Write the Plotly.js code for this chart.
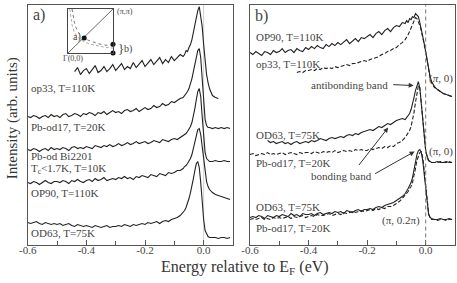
<!DOCTYPE html>
<html><head><meta charset="utf-8">
<script src="https://cdn.plot.ly/plotly-3.0.1.min.js"></script>
<style>html,body{margin:0;padding:0;background:#fff}</style>
</head><body><div id="chart" style="width:457px;height:283px"></div>
<script>
// Energy grid (eV relative to E_F)
const energy = [
 -0.60,-0.59,-0.58,-0.57,-0.56,-0.55,-0.54,-0.53,-0.52,-0.51,
 -0.50,-0.49,-0.48,-0.47,-0.46,-0.45,-0.44,-0.43,-0.42,-0.41,
 -0.40,-0.39,-0.38,-0.37,-0.36,-0.35,-0.34,-0.33,-0.32,-0.31,
 -0.30,-0.29,-0.28,-0.27,-0.26,-0.25,-0.24,-0.23,-0.22,-0.21,
 -0.20,-0.19,-0.18,-0.17,-0.16,-0.15,-0.14,-0.13,-0.12,-0.11,
 -0.10,-0.09,-0.08,-0.07,
 -0.065,-0.06,-0.055,-0.05,-0.045,-0.04,-0.035,-0.03,-0.025,-0.02,-0.015,-0.01,-0.005,0,0.005,0.01,0.015,0.02,
 0.03,0.04,0.05,0.06,0.07,0.08,0.09];

// Panel a) spectra (offset, arb. units)
const aOp33 = [
 null,null,null,null,null,null,null,null,null,null,
 null,null,null,null,null,null,173,177,170,174,
 176,171,175,179,172,174,178,173,176,180,
 174,177,181,175,178,176,182,177,180,184,
 178,181,185,180,183,187,181,185,182,188,
 184,187,190,188,
 190,194,193,197,200,205,212,220,228,234,238,230,218,200,182,170,162,156,
 149,147,146,null,null,null,null];
const aPbOd17 = [
 128,127,129,128,126,128,129,127,130,128,
 129,127,130,131,128,129,131,130,128,131,
 130,132,131,129,132,131,133,130,132,134,
 132,133,131,134,135,133,134,136,133,135,
 137,135,136,139,137,138,141,139,140,143,
 142,144,146,147,
 149,150,153,156,160,166,173,181,188,194,196,187,166,142,125,119,117,117,
 116,117,116,117,116,117,116];
const aBi2201 = [
 95,94,96,95,93,95,96,94,97,95,
 96,95,97,96,94,97,98,96,97,96,
 98,97,96,99,98,97,99,98,100,98,
 99,101,99,100,102,100,101,103,101,102,
 103,101,102,104,103,102,105,104,103,105,
 106,105,107,109,
 110,111,113,115,118,122,128,136,145,153,156,148,128,106,92,86,84,83,
 83,84,83,83,84,83,83];
const aOP90 = [
 62,61,63,62,60,62,64,62,61,63,
 63,62,64,63,61,64,63,65,63,62,
 64,65,63,66,64,65,67,64,65,66,
 65,67,66,68,66,67,65,68,67,69,
 68,67,70,69,68,71,70,69,72,71,
 72,74,74,76,
 78,79,81,83,86,90,96,103,110,115,116,110,98,86,73,63,58,55,
 52,50,49,48,47,46,45];
const aOD63 = [
 22,21,22,23,21,20,22,21,20,21,
 20,21,19,20,21,19,18,20,19,18,
 19,18,17,19,18,17,18,19,17,18,
 18,19,18,20,19,18,20,19,20,21,
 20,22,21,22,23,21,23,24,23,25,
 26,27,29,32,
 34,37,41,46,52,58,66,74,81,83,77,62,42,25,14,10,8,7,
 7,7,6,7,7,6,7];

// Panel b) spectra
const bOP90 = [
 192,190,193,191,189,193,192,190,194,192,
 193,196,192,194,195,192,196,194,193,197,
 195,198,196,199,197,196,200,198,201,199,
 202,200,203,205,201,204,206,203,207,206,
 208,210,207,211,213,210,214,216,213,217,
 219,218,222,221,
 224,222,226,225,228,227,231,229,228,222,216,209,201,193,184,176,168,163,
 158,155,153,151,150,149,148];
const bOp33 = [
 null,null,null,null,null,null,null,null,null,null,
 null,null,null,null,null,null,172,173,172,174,
 174,175,174,176,175,177,176,177,176,178,
 177,178,179,180,179,181,181,182,183,184,
 183,185,186,187,188,190,191,193,194,196,
 197,200,202,205,
 207,210,213,217,221,225,227,226,223,219,214,208,200,192,183,175,167,162,
 157,155,153,151,150,149,148];
const bOD63Pi0 = [
 null,null,null,null,null,null,104,102,103,101,
 102,103,101,102,100,102,103,101,102,103,
 102,104,103,104,106,105,104,106,107,106,
 107,108,107,109,110,109,111,110,112,113,
 114,115,114,116,118,117,119,121,120,122,
 124,125,126,125,
 127,128,131,135,140,147,154,160,163,156,140,122,106,94,88,84,83,82,
 82,83,82,82,83,82,82];
const bPbOd17Pi0 = [
 90,91,89,90,91,90,92,90,91,90,
 91,92,90,91,92,91,90,92,91,92,
 92,91,93,92,91,93,92,93,92,94,
 92,93,94,93,94,93,95,94,95,94,
 94,96,95,96,97,96,98,97,99,98,
 101,102,104,107,
 109,111,114,118,124,132,142,152,159,157,142,123,106,94,88,84,83,82,
 82,82,83,82,82,83,82];
const bOD63Pi02 = [
 27,28,27,29,28,26,29,28,27,29,
 28,30,29,28,31,29,30,28,31,30,
 30,31,29,31,32,30,31,32,31,33,
 32,33,31,34,33,32,34,35,33,35,
 35,36,35,37,38,37,39,40,41,42,
 44,46,48,51,
 53,56,59,62,67,75,84,90,94,95,92,84,70,54,38,30,27,26,
 25,25,26,25,25,26,25];
const bPbOd17Pi02 = [
 25,26,25,26,27,25,26,25,27,26,
 27,26,27,28,26,28,27,28,29,27,
 28,29,28,30,29,29,30,31,29,30,
 31,30,32,31,32,33,32,33,34,33,
 34,35,34,36,35,37,36,38,38,39,
 41,43,46,49,
 51,53,56,58,62,68,76,84,89,92,93,87,74,57,40,31,27,25,
 25,24,25,25,24,25,25];

// Inset: Brillouin zone quadrant (units of pi)
const fsKx = [0.09,0.11,0.14,0.18,0.24,0.30,0.36,0.45,0.55,0.68,0.82,1.0];
const fsKy = [1.0,0.85,0.70,0.57,0.46,0.39,0.34,0.29,0.25,0.21,0.18,0.16];
const fs2Kx = [0.04,0.06,0.09,0.13,0.19,0.27,0.37,0.5,0.65,0.82,1.0];
const fs2Ky = [1.0,0.82,0.64,0.50,0.39,0.31,0.25,0.2,0.16,0.13,0.11];
const dotKx = [0.36,1.0,1.0];
const dotKy = [0.34,0.2,0.0];

// Tick labels
const tickVals = [-0.6,-0.4,-0.2,0.0];
const tickText = ["-0.6","-0.4","-0.2","0.0"];
const minorVals = [-0.5,-0.3,-0.1,0.1];

const serif = "Liberation Serif, Times New Roman, serif";
const ink = "#222";
const txt = "#444";

function line(x, y, xa, ya, dash) {
  return {x: x, y: y, xaxis: xa, yaxis: ya, type: "scatter", mode: "lines",
    line: {color: ink, width: 1.1, dash: dash || "solid"}, hoverinfo: "skip", showlegend: false, connectgaps: false};
}

const traces = [
  line(energy, aOp33, "x", "y"),
  line(energy, aPbOd17, "x", "y"),
  line(energy, aBi2201, "x", "y"),
  line(energy, aOP90, "x", "y"),
  line(energy, aOD63, "x", "y"),
  line(energy, bOP90, "x2", "y2"),
  line(energy, bOp33, "x2", "y2", "4px,2px"),
  line(energy, bOD63Pi0, "x2", "y2"),
  line(energy, bPbOd17Pi0, "x2", "y2", "4px,2px"),
  line(energy, bOD63Pi02, "x2", "y2"),
  line(energy, bPbOd17Pi02, "x2", "y2", "4px,2px"),
  // inset
  {x: [0, 1], y: [0, 1], xaxis: "x3", yaxis: "y3", mode: "lines", line: {color: "#444", width: 0.8}, showlegend: false, hoverinfo: "skip"},
  {x: fs2Kx, y: fs2Ky, xaxis: "x3", yaxis: "y3", mode: "lines", line: {color: "#999", width: 0.8, dash: "3px,2px"}, showlegend: false, hoverinfo: "skip"},
  {x: fsKx, y: fsKy, xaxis: "x3", yaxis: "y3", mode: "lines", line: {color: "#666", width: 0.9, dash: "dot"}, showlegend: false, hoverinfo: "skip"},
  {x: dotKx, y: dotKy, xaxis: "x3", yaxis: "y3", mode: "markers", marker: {color: "#111", size: 5}, showlegend: false, hoverinfo: "skip", cliponaxis: false}
];

const yDom = [0.136, 0.982];
function xAx(dom, anchor) {
  return {domain: dom, anchor: anchor, range: [-0.6, 0.1], showgrid: false, zeroline: false,
    showline: true, mirror: true, linecolor: "#555", linewidth: 1,
    tickmode: "array", tickvals: tickVals, ticktext: tickText, ticks: "inside", ticklen: 5, tickcolor: "#555",
    ticklabelstandoff: -5,
    minor: {tickmode: "array", tickvals: minorVals, ticks: "inside", ticklen: 4, tickcolor: "#555"},
    tickfont: {family: serif, size: 11, color: txt}};
}
function yAx(anchor) {
  return {domain: yDom, anchor: anchor, range: [0, 239.5], showgrid: false, zeroline: false,
    showline: true, mirror: true, linecolor: "#555", linewidth: 1, showticklabels: false, ticks: ""};
}

function lab(text, xref, yref, x, y, anchor, size) {
  return {text: text, xref: xref, yref: yref, x: x, y: y, xanchor: anchor || "left", yanchor: "middle",
    showarrow: false, font: {family: serif, size: size || 11, color: txt}};
}
function arrow(x, y, ax, ay) {
  return {text: "", xref: "x2", yref: "y2", axref: "x2", ayref: "y2", x: x, y: y, ax: ax, ay: ay,
    showarrow: true, arrowhead: 2, arrowsize: 1, arrowwidth: 1, arrowcolor: "#333"};
}

const annotations = [
  lab("a)", "x", "y", -0.59, 230, "left", 16),
  lab("b)", "x2", "y2", -0.59, 229, "left", 16),
  lab("op33, T=110K", "x", "y", -0.596, 157),
  lab("Pb-od17, T=20K", "x", "y", -0.596, 118),
  lab("Pb-od Bi2201", "x", "y", -0.596, 89),
  lab("T<sub>c</sub>&lt;1.7K, T=10K", "x", "y", -0.596, 76),
  lab("OP90, T=110K", "x", "y", -0.596, 52),
  lab("OD63, T=75K", "x", "y", -0.596, 12),
  lab("OP90, T=110K", "x2", "y2", -0.585, 208),
  lab("op33, T=110K", "x2", "y2", -0.585, 181),
  lab("antibonding band", "x2", "y2", -0.121, 160, "right"),
  lab("(<i>π</i>, 0)", "x2", "y2", 0.1, 166, "right"),
  lab("OD63, T=75K", "x2", "y2", -0.585, 110),
  lab("Pb-od17, T=20K", "x2", "y2", -0.585, 82),
  lab("(π, 0)", "x2", "y2", 0.1, 93, "right"),
  lab("bonding band", "x2", "y2", -0.289, 69, "center"),
  lab("OD63, T=75K", "x2", "y2", -0.585, 38),
  lab("(π, 0.2π)", "x2", "y2", -0.084, 24, "center"),
  lab("Pb-od17, T=20K", "x2", "y2", -0.585, 17),
  arrow(-0.041, 159, -0.116, 160),
  arrow(-0.128, 117, -0.232, 78),
  arrow(-0.038, 93, -0.178, 70),
  // inset labels
  lab("a)", "x3", "y3", 0.06, 0.36, "left", 10),
  lab("}", "paper", "paper", 0.253, 0.827, "left", 13),
  lab("b)", "paper", "paper", 0.266, 0.827, "left", 10),
  lab("(π,π)", "paper", "paper", 0.251, 0.958, "left", 8),
  lab("Γ(0,0)", "paper", "paper", 0.134, 0.792, "left", 8),
  // axis titles
  {text: "Energy relative to E<sub>F</sub> (eV)", xref: "paper", yref: "paper", x: 0.536, y: 0.056,
   xanchor: "center", yanchor: "middle", showarrow: false, font: {family: serif, size: 16, color: "#333"}},
  {text: "Intensity (arb. units)", xref: "paper", yref: "paper", x: 0.027, y: 0.583, textangle: -90,
   xanchor: "center", yanchor: "middle", showarrow: false, font: {family: serif, size: 15, color: "#333"}}
];

const shapes = [
  {type: "line", xref: "x", yref: "paper", x0: 0, x1: 0, y0: yDom[0], y1: yDom[1], line: {color: "#d0d0d0", width: 1}, layer: "below"},
  {type: "line", xref: "x2", yref: "paper", x0: 0, x1: 0, y0: yDom[0], y1: yDom[1], line: {color: "#777", width: 1, dash: "4px,3px"}}
];

const layout = {
  width: 457, height: 283, margin: {l: 0, r: 0, t: 0, b: 0},
  paper_bgcolor: "#fff", plot_bgcolor: "rgba(0,0,0,0)", showlegend: false,
  font: {family: serif, color: txt},
  xaxis: xAx([0.0606, 0.5098], "y"),
  yaxis: yAx("x"),
  xaxis2: xAx([0.547, 0.9956], "y2"),
  yaxis2: yAx("x2"),
  xaxis3: {domain: [0.1488, 0.2473], anchor: "y3", range: [0, 1], showgrid: false, zeroline: false,
    showline: true, mirror: true, linecolor: "#444", linewidth: 1, showticklabels: false, ticks: ""},
  yaxis3: {domain: [0.8127, 0.9682], anchor: "x3", range: [0, 1], showgrid: false, zeroline: false,
    showline: true, mirror: true, linecolor: "#444", linewidth: 1, showticklabels: false, ticks: ""},
  annotations: annotations, shapes: shapes
};

Plotly.newPlot("chart", traces, layout, {staticPlot: true, displayModeBar: false});
</script></body></html>
